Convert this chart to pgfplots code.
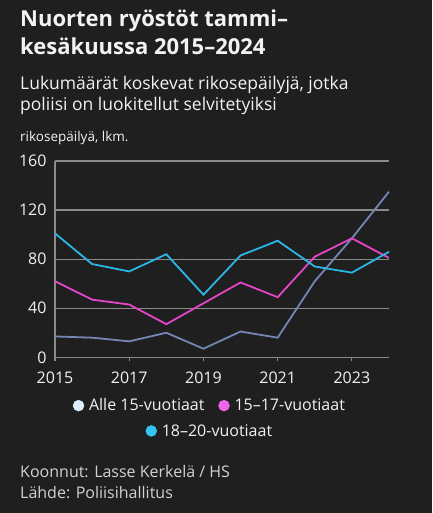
\documentclass[border=0pt]{standalone}
\usepackage{pgfplots}
\pgfplotsset{compat=1.18}
\usepackage{fontspec}
\setmainfont{Open Sans}
\definecolor{bg}{HTML}{1F1F1F}
\definecolor{fg}{HTML}{F2F2F2}
\definecolor{gridc}{HTML}{8A8A8A}
\definecolor{cyanc}{HTML}{2BB7E6}
\definecolor{magc}{HTML}{E545C8}
\definecolor{slatec}{HTML}{7585B5}
\definecolor{lightc}{HTML}{DCEEFF}
\definecolor{magl}{HTML}{F064E6}
\definecolor{cyanl}{HTML}{33C4F2}
\begin{document}
\begin{tikzpicture}[x=1pt,y=1pt]
\fill[bg] (0,0) rectangle (432,513);
\useasboundingbox (0,0) rectangle (432,513);
\node[anchor=base west,inner sep=0,text=fg,font=\fontsize{22}{26}\selectfont\bfseries] at (20,486.3) {Nuorten ryöstöt tammi–};
\node[anchor=base west,inner sep=0,text=fg,font=\fontsize{22}{26}\selectfont\bfseries] at (20,458.7) {kesäkuussa 2015–2024};
\node[anchor=base west,inner sep=0,text=fg,font=\fontsize{17.5}{20}\selectfont] at (20,423) {Lukumäärät koskevat rikosepäilyjä, jotka};
\node[anchor=base west,inner sep=0,text=fg,font=\fontsize{17.5}{20}\selectfont] at (20,402) {poliisi on luokitellut selvitetyiksi};
\node[anchor=base west,inner sep=0,text=fg,font=\fontsize{13.5}{17}\selectfont] at (20,371) {rikosepäilyä, lkm.};
\node[anchor=base west,inner sep=0,text=fg!85!bg,font=\fontsize{16}{18}\selectfont] at (20,35) {Koonnut: Lasse Kerkelä / HS};
\node[anchor=base west,inner sep=0,text=fg!85!bg,font=\fontsize{16}{18}\selectfont] at (20,14) {Lähde: Poliisihallitus};
\begin{axis}[
  at={(55pt,155.7pt)}, anchor=south west,
  scale only axis, width=334pt, height=196.3pt,
  xmin=2015, xmax=2024, ymin=0, ymax=160,
  xtick={2015,2017,2019,2021,2023},
  ytick={0,40,80,120,160},
  axis x line=bottom, axis y line=left,
  axis line style={gridc, line width=1.2pt, -},
  ymajorgrids, grid style={gridc, line width=1.2pt},
  xtick style={gridc, line width=1.2pt}, tick align=outside, major tick length=4pt,
  ytick style={draw=none},
  /pgf/number format/assume math mode=true,
  /pgf/number format/1000 sep={},
  ticklabel style={text=fg, font=\fontsize{16}{19}\selectfont},
  yticklabel style={xshift=-1pt},
  xticklabel style={yshift=-7pt},
  clip=false,
  legend style={at={(0.464,-0.19)}, anchor=north, draw=none, fill=none, text=fg,
    font=\fontsize{16}{19}\selectfont, /tikz/every even column/.append style={column sep=12pt},
    /tikz/every odd column/.append style={column sep=3pt}},
  legend columns=2,
]
\addplot[slatec, line width=1.8pt, forget plot] coordinates {(2015,17)(2016,16)(2017,13)(2018,20)(2019,7)(2020,21)(2021,16)(2022,62)(2023,97)(2024,135)};
\addplot[magc, line width=1.8pt, forget plot] coordinates {(2015,62)(2016,47)(2017,43)(2018,27)(2019,44)(2020,61)(2021,49)(2022,82)(2023,97)(2024,81)};
\addplot[cyanc, line width=1.8pt, forget plot] coordinates {(2015,101)(2016,76)(2017,70)(2018,84)(2019,51)(2020,83)(2021,95)(2022,74)(2023,69)(2024,86)};
\addlegendimage{only marks, mark=*, mark size=5.5pt, lightc}
\addlegendentry{Alle 15-vuotiaat}
\addlegendimage{only marks, mark=*, mark size=5.5pt, magl}
\addlegendentry{15–17-vuotiaat}
\end{axis}
\begin{axis}[
  at={(55pt,155.7pt)}, anchor=south west,
  scale only axis, width=334pt, height=196.3pt,
  hide axis, xmin=0, xmax=1, ymin=0, ymax=1,
  legend style={at={(0.464,-0.32)}, anchor=north, draw=none, fill=none, text=fg,
    font=\fontsize{16}{19}\selectfont, /tikz/every odd column/.append style={column sep=3pt}},
]
\addlegendimage{only marks, mark=*, mark size=5.5pt, cyanl}
\addlegendentry{18–20-vuotiaat}
\end{axis}
\end{tikzpicture}
\end{document}
